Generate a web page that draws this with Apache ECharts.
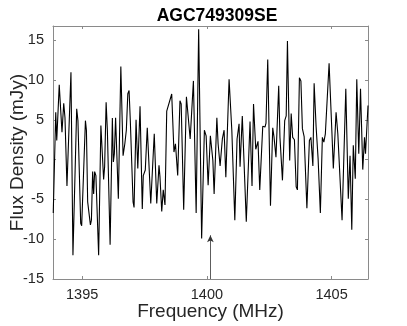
<!DOCTYPE html>
<html><head><meta charset="utf-8">
<script src="https://cdn.jsdelivr.net/npm/echarts@6/dist/echarts.min.js"></script>
<style>html,body{margin:0;padding:0;background:#fff}#c{width:407px;height:326px}</style>
</head><body><div id="c"></div>
<script>
const title = 'AGC749309SE';
const xName = 'Frequency (MHz)';
const yName = 'Flux Density (mJy)';
const xTicks = [1395, 1400, 1405];
const yTicks = [-15, -10, -5, 0, 5, 10, 15];
const freq = [1393.84,1393.94,1393.98,1394.08,1394.19,1394.26,1394.31,1394.39,1394.55,1394.63,1394.78,1394.83,1394.94,1394.98,1395.13,1395.17,1395.22,1395.27,1395.33,1395.37,1395.42,1395.46,1395.50,1395.55,1395.66,1395.75,1395.86,1395.90,1395.96,1396.01,1396.12,1396.21,1396.25,1396.29,1396.34,1396.45,1396.55,1396.64,1396.71,1396.77,1396.83,1396.88,1396.93,1396.99,1397.04,1397.08,1397.16,1397.23,1397.32,1397.41,1397.45,1397.53,1397.61,1397.75,1397.89,1397.99,1398.08,1398.12,1398.19,1398.25,1398.32,1398.39,1398.45,1398.59,1398.68,1398.74,1398.83,1398.92,1398.97,1399.07,1399.18,1399.23,1399.33,1399.46,1399.57,1399.67,1399.79,1399.90,1399.97,1400.05,1400.14,1400.24,1400.29,1400.40,1400.45,1400.53,1400.62,1400.69,1400.76,1400.89,1401.00,1401.12,1401.21,1401.29,1401.33,1401.42,1401.48,1401.58,1401.73,1401.81,1401.87,1401.96,1402.01,1402.05,1402.12,1402.17,1402.24,1402.33,1402.37,1402.44,1402.55,1402.64,1402.69,1402.77,1402.88,1402.93,1403.03,1403.12,1403.18,1403.23,1403.32,1403.38,1403.44,1403.51,1403.58,1403.63,1403.71,1403.77,1403.83,1403.90,1404.01,1404.11,1404.17,1404.25,1404.30,1404.38,1404.46,1404.55,1404.63,1404.69,1404.75,1404.81,1404.90,1405.01,1405.07,1405.18,1405.25,1405.31,1405.42,1405.57,1405.67,1405.74,1405.81,1405.87,1405.95,1406.01,1406.09,1406.16,1406.25,1406.32,1406.36,1406.46];
const flux = [-6.7,5.95,2.4,9.4,3.45,7.1,5.3,-3.3,11.0,-12.0,6.4,4.9,-8.0,-8.3,4.9,3.7,-5.3,-5.4,-8.2,-7.6,-1.5,-4.3,-1.5,-2.0,-12.0,4.3,-2.5,-0.9,7.2,3.7,-10.7,5.25,-0.3,0.75,5.25,-4.9,11.7,0.5,2.0,3.7,8.3,8.7,4.9,4.9,-5.3,-6.0,5.0,-1.1,6.7,-6.2,-2.0,-1.3,4.0,-5.5,3.25,-5.5,-0.7,-2.2,-6.5,-3.8,-5.7,6.1,6.2,8.25,0.95,2.0,-2.0,7.4,7.0,-6.3,7.9,8.0,2.6,9.9,-6.7,16.4,-9.9,3.7,3.0,-3.2,3.0,-0.1,-4.3,5.25,2.0,-0.8,2.6,3.7,-2.2,10.1,3.7,-7.6,2.6,4.5,-0.9,5.5,5.3,-7.8,4.8,-3.3,7.0,1.3,1.2,2.3,-3.8,-3.7,4.2,4.1,4.6,12.6,-5.8,4.0,2.9,0.3,9.3,2.8,-2.6,4.9,5.5,14.9,-0.1,5.8,2.8,2.5,-3.4,-3.8,10.3,9.9,3.9,2.9,-6.1,2.4,2.8,-0.8,9.6,4.1,0.1,-6.7,2.8,2.2,3.25,3.0,12.1,3.7,-1.1,5.95,3.25,3.0,-7.6,8.9,-4.9,0.5,-8.8,1.8,-2.4,10.1,0.75,8.9,-1.25,2.8,0.75,6.8];
const arrowX = 1400.14;
const arrowFrom = -15;
const arrowTo = -9.5;

const xMin = 1393.83, xMax = 1406.46, yMin = -15, yMax = 16.8;
const axisCol = '#8a8a8a', textCol = '#262626', font = 'Liberation Sans, Arial, Helvetica, sans-serif';

const chart = echarts.init(document.getElementById('c'), null, {renderer: 'canvas'});
const baseX = {
  type: 'value', min: xMin, max: xMax,
  axisLine: {show: true, onZero: false, lineStyle: {color: axisCol, width: 1}},
  axisTick: {show: true, inside: true, length: 3, customValues: xTicks, lineStyle: {color: axisCol}},
  splitLine: {show: false}
};
const baseY = {
  type: 'value', min: yMin, max: yMax, interval: 5,
  axisLine: {show: true, onZero: false, lineStyle: {color: axisCol, width: 1}},
  axisTick: {show: true, inside: true, length: 3, lineStyle: {color: axisCol}},
  splitLine: {show: false}
};
chart.setOption({
  animation: false,
  backgroundColor: '#fff',
  title: {text: title, left: 212, textAlign: 'center', top: 2,
    textStyle: {fontFamily: font, fontWeight: 'bold', fontSize: 17.5, color: '#000'}},
  grid: {left: 53, right: 39, top: 26, bottom: 47, containLabel: false, outerBoundsMode: 'none'},
  xAxis: [
    Object.assign({}, baseX, {position: 'bottom', name: xName, nameLocation: 'middle', nameGap: 23,
      nameMoveOverlap: false,
      nameTextStyle: {fontFamily: font, fontSize: 19, color: textCol},
      axisLabel: {show: true, customValues: xTicks, margin: 8, fontFamily: font, fontSize: 14.5, color: textCol,
        formatter: v => String(v)}}),
    Object.assign({}, baseX, {position: 'top', axisLabel: {show: false}})
  ],
  yAxis: [
    Object.assign({}, baseY, {position: 'left', name: yName, nameLocation: 'middle', nameGap: 26,
      nameMoveOverlap: false,
      nameTextStyle: {fontFamily: font, fontSize: 19, color: textCol},
      axisLabel: {show: true, margin: 9, showMaxLabel: false, fontFamily: font, fontSize: 14.5, color: textCol,
        formatter: v => (yTicks.indexOf(v) >= 0 ? String(v) : '')}}),
    Object.assign({}, baseY, {position: 'right', axisLabel: {show: false}})
  ],
  series: [{
    type: 'line', xAxisIndex: 0, yAxisIndex: 0,
    data: freq.map((f, i) => [f, flux[i]]),
    showSymbol: false, symbol: 'none',
    lineStyle: {color: '#000', width: 1.1},
    markLine: {
      silent: true, symbol: ['none', 'arrow'], symbolSize: [5, 7],
      lineStyle: {color: '#333', width: 0.8, type: 'solid'},
      label: {show: false},
      data: [[{coord: [arrowX, arrowFrom]}, {coord: [arrowX, arrowTo]}]]
    }
  }]
});
</script></body></html>
